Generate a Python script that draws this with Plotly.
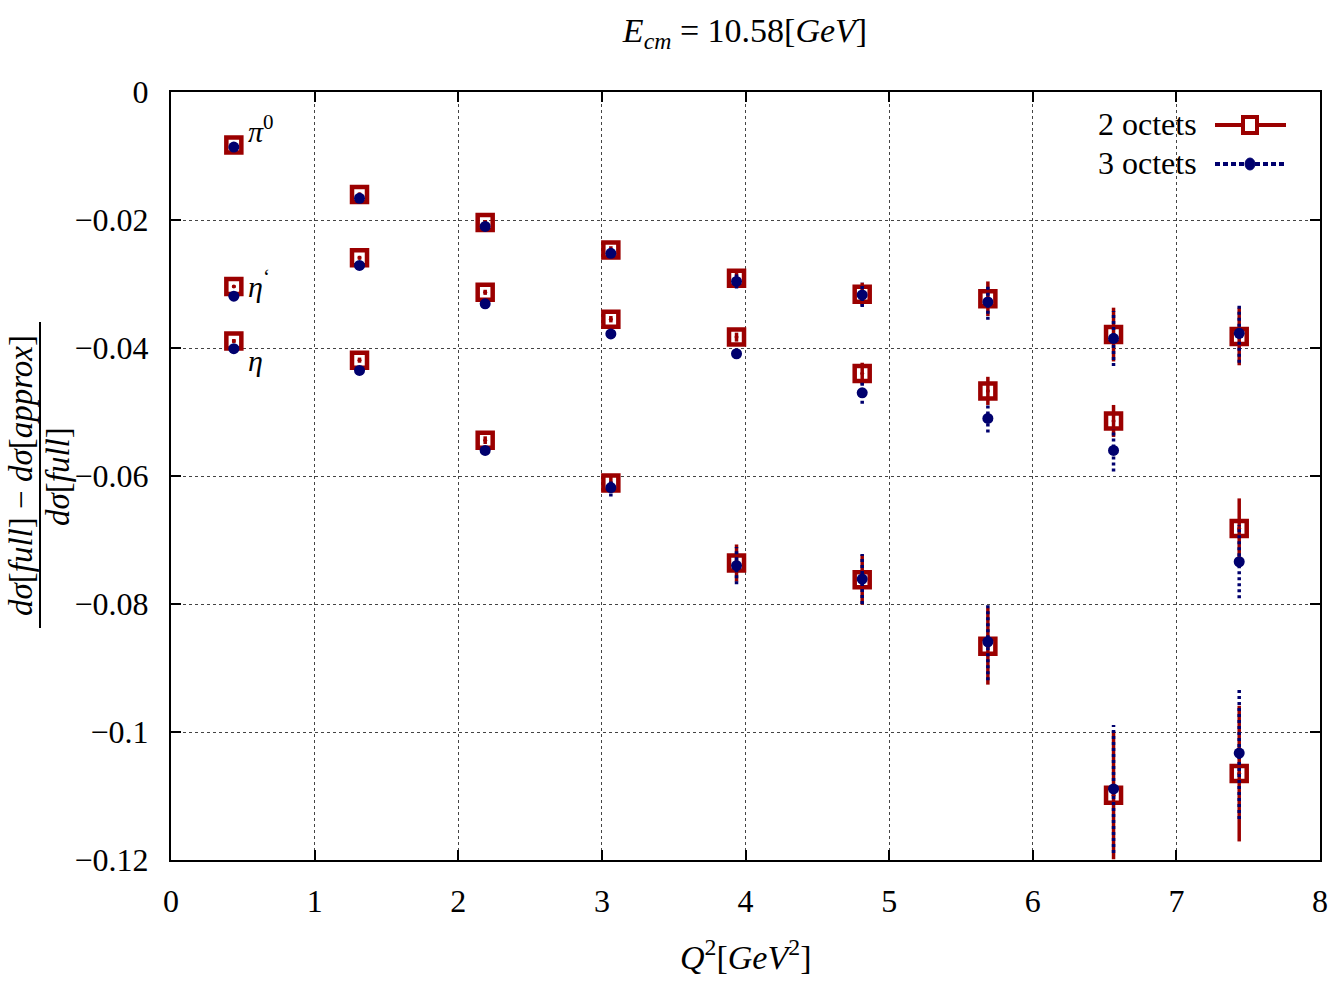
import plotly.graph_objects as go

# ---- data ----
q2 = [0.4375, 1.3125, 2.1875, 3.0625, 3.9375, 4.8125, 5.6875, 6.5625, 7.4375]

pi0_2oct = [-0.0083, -0.0160, -0.0204, -0.0247, -0.0291, -0.0316, -0.0323, -0.0379, -0.0382]
pi0_3oct = [-0.0086, -0.0166, -0.0210, -0.0252, -0.0296, -0.0317, -0.0328, -0.0385, -0.0377]
pi0_err2 = [0.0002, 0.0003, 0.0004, 0.0006, 0.0010, 0.0018, 0.0027, 0.0042, 0.0045]
pi0_err3 = [0.0002, 0.0003, 0.0004, 0.0006, 0.0011, 0.0019, 0.0028, 0.0043, 0.0046]

etap_2oct = [-0.0304, -0.0259, -0.0313, -0.0355, -0.0383, -0.0440, -0.0467, -0.0514, -0.0682]
etap_3oct = [-0.0319, -0.0271, -0.0331, -0.0378, -0.0409, -0.0470, -0.0510, -0.0560, -0.0734]
etap_err2 = [0.0002, 0.0003, 0.0004, 0.0005, 0.0007, 0.0017, 0.0022, 0.0025, 0.0047]
etap_err3 = [0.0002, 0.0003, 0.0004, 0.0005, 0.0007, 0.0017, 0.0022, 0.0033, 0.0057]

eta_2oct = [-0.0389, -0.0419, -0.0544, -0.0611, -0.0736, -0.0762, -0.0866, -0.1099, -0.1065]
eta_3oct = [-0.0401, -0.0435, -0.0560, -0.0618, -0.0740, -0.0761, -0.0859, -0.1089, -0.1033]
eta_err2 = [0.0003, 0.0004, 0.0006, 0.0012, 0.0029, 0.0039, 0.0060, 0.0100, 0.0106]
eta_err3 = [0.0003, 0.0004, 0.0007, 0.0014, 0.0029, 0.0039, 0.0060, 0.0100, 0.0103]

series_names = ["2 octets", "3 octets"]
meson_labels = ["<i>π</i><sup>0</sup>", "<i>η</i><sup>‘</sup>", "<i>η</i>"]
meson_label_y = [-0.0058, -0.0300, -0.0420]
label_x = 0.52

xtick_vals = [0, 1, 2, 3, 4, 5, 6, 7, 8]
ytick_vals = [0, -0.02, -0.04, -0.06, -0.08, -0.1, -0.12]
ytick_text = ["0", "−0.02", "−0.04", "−0.06", "−0.08", "−0.1", "−0.12"]

RED = "#9b0000"
BLUE = "#00006e"
FONT = "Liberation Serif"

x_all = q2 * 3
y2 = pi0_2oct + etap_2oct + eta_2oct
e2 = pi0_err2 + etap_err2 + eta_err2
y3 = pi0_3oct + etap_3oct + eta_3oct
e3 = pi0_err3 + etap_err3 + eta_err3

fig = go.Figure()

# 2 octets: squares with solid error bars
fig.add_trace(go.Scatter(
    x=x_all, y=y2, mode="markers", name=series_names[0],
    marker=dict(symbol="square-open", size=15, color=RED, line=dict(width=4.5, color=RED)),
    error_y=dict(type="data", array=e2, visible=True, color=RED, thickness=3.5, width=0),
    showlegend=False,
))
fig.add_trace(go.Scatter(
    x=x_all, y=y2, mode="markers", hoverinfo="skip",
    marker=dict(symbol="circle", size=4, color=RED), showlegend=False,
))

# 3 octets: dotted error bars built from data
ex, ey = [], []
for xv, yv, ev in zip(x_all, y3, e3):
    ex += [xv, xv, None]
    ey += [yv - ev, yv + ev, None]
fig.add_trace(go.Scatter(
    x=ex, y=ey, mode="lines", hoverinfo="skip",
    line=dict(color=BLUE, width=3.5, dash="3px,3px"), showlegend=False,
))
fig.add_trace(go.Scatter(
    x=x_all, y=y3, mode="markers", name=series_names[1],
    marker=dict(symbol="circle", size=11, color=BLUE), showlegend=False,
))

# meson labels
for txt, yv in zip(meson_labels, meson_label_y):
    fig.add_annotation(x=label_x, y=yv, text=txt, showarrow=False, xanchor="left",
                       yanchor="middle", font=dict(family=FONT, size=30, color="black"))

# figure placed at page origin (body margin removed below)
W, H = 1328, 983
PL, PR, PT, PB = 171, 1320, 92, 860
L, R, T, B = PL, W - PR, PT, H - PB
pw, ph = PR - PL, PB - PT


def px(xp):
    return (xp - PL) / pw


def py(yp):
    return (PB - yp) / ph


# manual legend (text left, sample right)
leg_font = dict(family=FONT, size=32, color="black")
fig.add_annotation(x=px(1199), y=py(124), xref="paper", yref="paper", text=series_names[0],
                   showarrow=False, xanchor="right", yanchor="middle", font=leg_font)
fig.add_annotation(x=px(1199), y=py(163), xref="paper", yref="paper", text=series_names[1],
                   showarrow=False, xanchor="right", yanchor="middle", font=leg_font)
shapes = [
    dict(type="line", xref="paper", yref="paper", x0=px(1215), x1=px(1286), y0=py(125), y1=py(125),
         line=dict(color=RED, width=4)),
    dict(type="rect", xref="paper", yref="paper", x0=px(1243), x1=px(1257), y0=py(117), y1=py(133),
         line=dict(color=RED, width=4), fillcolor="white"),
    dict(type="line", xref="paper", yref="paper", x0=px(1215), x1=px(1287), y0=py(164), y1=py(164),
         line=dict(color=BLUE, width=4, dash="5px,3px")),
    dict(type="circle", xref="paper", yref="paper", x0=px(1245), x1=px(1255), y0=py(158), y1=py(170),
         line=dict(color=BLUE, width=1), fillcolor=BLUE),
    # fraction bar of y title
    dict(type="line", xref="paper", yref="paper", x0=px(40), x1=px(40), y0=py(628), y1=py(322),
         line=dict(color="black", width=2)),
]

# y-axis title as a fraction
fig.add_annotation(x=px(21), y=py(475), xref="paper", yref="paper",
                   text="<i>dσ</i>[<i>full</i>] − <i>dσ</i>[<i>approx</i>]",
                   textangle=-90, showarrow=False, xanchor="center", yanchor="middle",
                   font=dict(family=FONT, size=33, color="black"))
fig.add_annotation(x=px(58), y=py(477), xref="paper", yref="paper",
                   text="<i>dσ</i>[<i>full</i>]",
                   textangle=-90, showarrow=False, xanchor="center", yanchor="middle",
                   font=dict(family=FONT, size=33, color="black"))

# x-axis title
fig.add_annotation(x=0.5, y=py(955), xref="paper", yref="paper",
                   text="<i>Q</i><sup>2</sup>[<i>GeV</i><sup>2</sup>]",
                   showarrow=False, xanchor="center", yanchor="middle",
                   font=dict(family=FONT, size=34, color="black"))

fig.update_layout(
    width=W, height=H,
    margin=dict(l=L, r=R, t=T, b=B, autoexpand=False),
    paper_bgcolor="white", plot_bgcolor="white",
    font=dict(family=FONT, size=32, color="black"),
    title=dict(text="<i>E<sub>cm</sub></i> = 10.58[<i>GeV</i>]", x=px(745), xref="paper",
               y=1 - 30 / H, yanchor="middle", xanchor="center",
               font=dict(family=FONT, size=34, color="black"), automargin=False),
    shapes=shapes,
    showlegend=False,
)
fig.update_xaxes(
    range=[0, 8], tickvals=xtick_vals, ticktext=[str(v) for v in xtick_vals],
    showline=True, linecolor="black", linewidth=2, mirror="ticks",
    ticks="inside", ticklen=10, tickwidth=2, tickcolor="black",
    showgrid=True, gridcolor="#444", griddash="dot", gridwidth=1,
    zeroline=False, ticklabelstandoff=12, automargin=False,
)
fig.update_yaxes(
    range=[-0.12, 0], tickvals=ytick_vals, ticktext=ytick_text,
    showline=True, linecolor="black", linewidth=2, mirror="ticks",
    ticks="inside", ticklen=10, tickwidth=2, tickcolor="black",
    showgrid=True, gridcolor="#444", griddash="dot", gridwidth=1,
    zeroline=False, ticklabelstandoff=14, automargin=False,
)

fig.write_html("out.html", config={"displayModeBar": False},
               post_script="document.body.style.margin='0';document.body.style.overflow='hidden';")
